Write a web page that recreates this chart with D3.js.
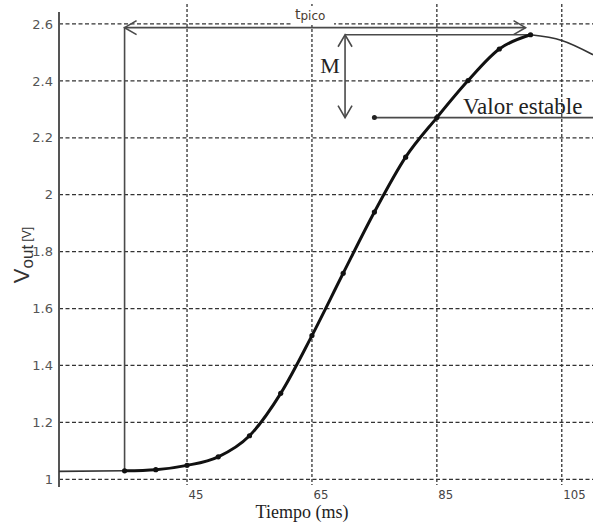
<!DOCTYPE html>
<html>
<head>
<meta charset="utf-8">
<script src="https://cdn.jsdelivr.net/npm/d3@7/dist/d3.min.js"></script>
<style>
  html, body { margin: 0; padding: 0; background: #fff; }
  svg { display: block; }
</style>
</head>
<body>
<svg id="chart" width="593" height="524"></svg>
<script>
// Step response of V_out over time (ms)
const timeMs   = [35, 40, 45, 50, 55, 60, 65, 70, 75, 80, 85, 90, 95, 100];
const voltage  = [1.030, 1.034, 1.049, 1.079, 1.153, 1.302, 1.505, 1.724, 1.939, 2.132, 2.271, 2.401, 2.512, 2.562];

// flat segment before the step and the decay after the peak
const leadTime = [24.5, 35];
const leadVolt = [1.028, 1.030];
const tailTime = [100, 105, 110];
const tailVolt = [2.562, 2.542, 2.492];

const xTicks = [45, 65, 85, 105];
const yTicks = [1, 1.2, 1.4, 1.6, 1.8, 2, 2.2, 2.4, 2.6];

// annotation values
const tStart = 35, tPeakArrow = 99.2, tpicoLevel = 2.587;
const peakTime = 100, peakValue = 2.562;
const steadyValue = 2.271, mArrowTime = 70.3, steadyDotTime = 75;

const svg = d3.select("#chart");
const x = d3.scaleLinear().domain([24.5, 110]).range([59, 593]);
const y = d3.scaleLinear().domain([0.973, 2.656]).range([487, 8]);

// grid
const grid = svg.append("g").attr("stroke", "#333").attr("stroke-width", 1.3);
grid.selectAll("line.h").data(yTicks).join("line")
  .attr("x1", x.range()[0]).attr("x2", x.range()[1])
  .attr("y1", d => y(d)).attr("y2", d => y(d))
  .attr("stroke-dasharray", "4,2.5");
grid.selectAll("line.v").data(xTicks).join("line")
  .attr("x1", d => x(d)).attr("x2", d => x(d))
  .attr("y1", 4).attr("y2", y.range()[0] - 2)
  .attr("stroke-dasharray", "3,2");

// y axis
const yAxis = svg.append("g").attr("transform", `translate(${x.range()[0]},0)`)
  .call(d3.axisLeft(y).tickValues(yTicks).tickSize(0).tickPadding(6).tickFormat(d3.format("~g")));
yAxis.select(".domain").attr("stroke", "#555").attr("stroke-width", 2).attr("d", `M0,12V${y.range()[0]}`);
yAxis.selectAll("text").attr("fill", "#555").style("font", "13px 'DejaVu Sans', sans-serif");

// x axis (labels only)
const xAxis = svg.append("g").attr("transform", `translate(0,${y.range()[0]})`)
  .call(d3.axisBottom(x).tickValues(xTicks).tickSize(0).tickPadding(3));
xAxis.select(".domain").remove();
xAxis.selectAll("text").attr("text-anchor", "start").attr("dx", 1).attr("fill", "#444")
  .style("font", "13px 'DejaVu Sans Condensed', 'DejaVu Sans', sans-serif")
  .style("font-stretch", "condensed");

// axis titles
svg.append("text").attr("x", 302).attr("y", 518).attr("text-anchor", "middle")
  .style("font", "18px 'Liberation Serif', serif").attr("fill", "#222").text("Tiempo (ms)");

const yl = svg.append("text").attr("transform", "translate(29,255) rotate(-90)")
  .attr("text-anchor", "middle").attr("fill", "#333")
  .style("font-family", "'Liberation Sans', Arial, sans-serif");
yl.append("tspan").style("font-size", "22px").text("V");
yl.append("tspan").style("font-size", "17px").attr("dy", 4).text("out");
yl.append("tspan").style("font-size", "12px").attr("dy", -2).text(" [V]");

const line = d3.line().x(d => x(d[0])).y(d => y(d[1]));
const smooth = d3.line().x(d => x(d[0])).y(d => y(d[1])).curve(d3.curveMonotoneX);

// annotation: t_pico
const ann = svg.append("g").attr("stroke", "#4a4a4a").attr("fill", "none").attr("stroke-width", 1.6);
ann.append("path").attr("d", line([[tStart, d3.min(voltage)], [tStart, tpicoLevel], [tPeakArrow, tpicoLevel]]));
const x0 = x(tStart), x1 = x(tPeakArrow), yp = y(tpicoLevel);
ann.append("path").attr("d", `M${x0 + 12},${yp - 7}L${x0},${yp}L${x0 + 12},${yp + 7}`);
ann.append("path").attr("d", `M${x1 - 12},${yp - 7}L${x1},${yp}L${x1 - 12},${yp + 7}`);

// white patch behind t_pico label
svg.append("rect").attr("x", 291).attr("y", 6).attr("width", 43).attr("height", 19).attr("fill", "#fff");
const tp = svg.append("text").attr("x", 295).attr("y", 19).attr("fill", "#4a3c30")
  .style("font-family", "'DejaVu Sans', sans-serif");
tp.append("tspan").style("font-size", "14px").text("t");
tp.append("tspan").style("font-size", "12px").attr("dy", 1).text("pico");

// annotation: overshoot M
const xm = x(mArrowTime), ypk = y(peakValue), yst = y(steadyValue);
ann.append("path").attr("d", line([[mArrowTime, peakValue], [peakTime, peakValue]]));
ann.append("path").attr("d", `M${xm},${ypk}V${yst}`);
ann.append("path").attr("d", `M${xm - 7},${ypk + 12}L${xm},${ypk}L${xm + 7},${ypk + 12}`);
ann.append("path").attr("d", `M${xm - 7},${yst - 12}L${xm},${yst}L${xm + 7},${yst - 12}`);
svg.append("text").attr("x", 330).attr("y", 73).attr("text-anchor", "middle")
  .style("font", "22px 'Liberation Serif', serif").attr("fill", "#222").text("M");

// annotation: steady value
ann.append("path").attr("d", line([[steadyDotTime, steadyValue], [x.domain()[1], steadyValue]]));
svg.append("circle").attr("cx", x(steadyDotTime)).attr("cy", yst).attr("r", 2.5).attr("fill", "#222");
svg.append("text").attr("x", 463).attr("y", 114)
  .style("font", "23px 'Liberation Serif', serif").attr("fill", "#222").text("Valor estable");

// response curve
svg.append("path").datum(d3.zip(leadTime, leadVolt)).attr("d", line)
  .attr("fill", "none").attr("stroke", "#333").attr("stroke-width", 1.6);
svg.append("path").datum(d3.zip(tailTime, tailVolt)).attr("d", smooth)
  .attr("fill", "none").attr("stroke", "#333").attr("stroke-width", 1.6);
svg.append("path").datum(d3.zip(timeMs, voltage)).attr("d", smooth)
  .attr("fill", "none").attr("stroke", "#111").attr("stroke-width", 3);
svg.selectAll("circle.pt").data(d3.zip(timeMs, voltage)).join("circle")
  .attr("class", "pt").attr("cx", d => x(d[0])).attr("cy", d => y(d[1])).attr("r", 2.6).attr("fill", "#111");
</script>
</body>
</html>
